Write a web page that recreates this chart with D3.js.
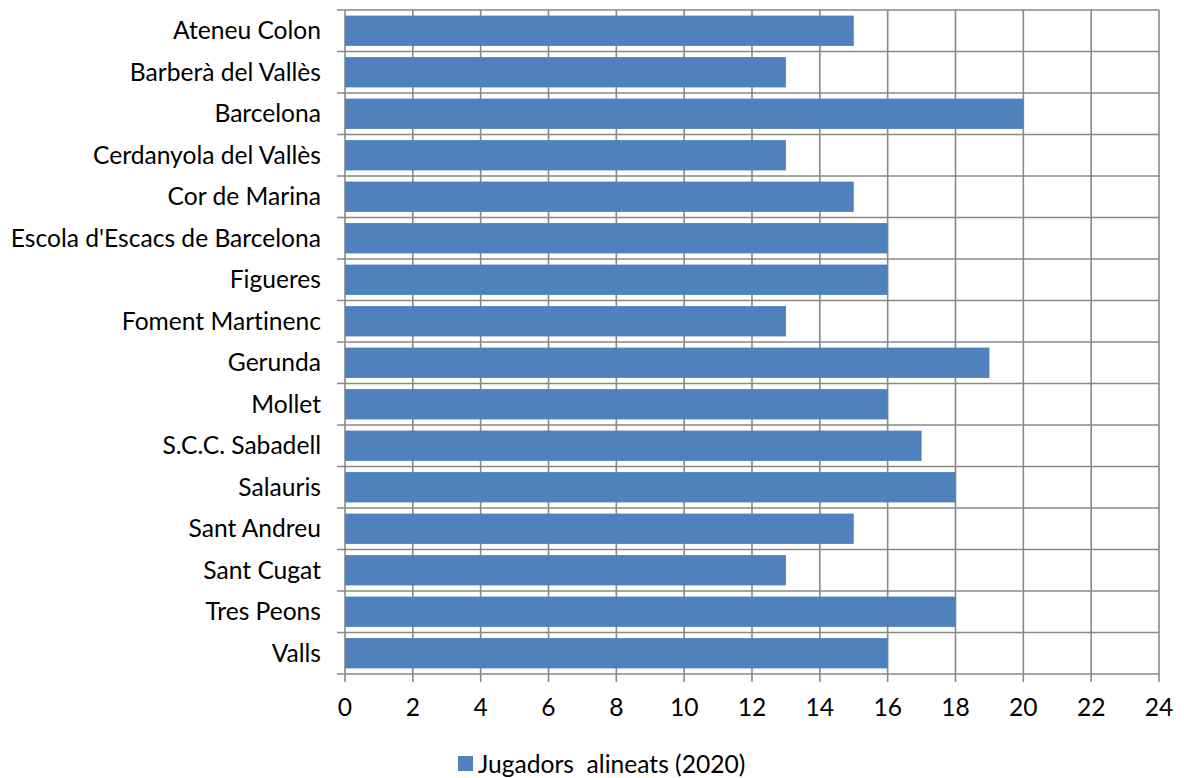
<!DOCTYPE html>
<html>
  <head>
    <script src="https://d3js.org/d3.v7.min.js" charset="utf-8"></script>
    <meta charset="UTF-8">
    <title>Jugadors alineats</title>
    <style>
      body { margin: 0; background: #fff; }
      text { font-family: Lato, "Open Sans", sans-serif; fill: #000; font-variant-ligatures: none; }
    </style>
  </head>
  <body>
    <svg class="chart"></svg>
    <script type="text/javascript">

     var clubs = ["Ateneu Colon", "Barberà del Vallès", "Barcelona", "Cerdanyola del Vallès",
                  "Cor de Marina", "Escola d'Escacs de Barcelona", "Figueres", "Foment Martinenc",
                  "Gerunda", "Mollet", "S.C.C. Sabadell", "Salauris", "Sant Andreu",
                  "Sant Cugat", "Tres Peons", "Valls"];
     var players = [15, 13, 20, 13, 15, 16, 16, 13, 19, 16, 17, 18, 15, 13, 18, 16];
     var xTicks = [0, 2, 4, 6, 8, 10, 12, 14, 16, 18, 20, 22, 24];
     var seriesName = "Jugadors\u00a0 alineats (2020)";

     var width = 1184,
         height = 778,
         plotLeft = 345,
         plotRight = 1159,
         plotTop = 10,
         plotBottom = 674,
         fontSize = 24.6;

     var svg = d3.select(".chart")
                 .attr("width", width)
                 .attr("height", height);

     var x = d3.scaleLinear().domain([0, 24]).range([plotLeft, plotRight]);
     var y = d3.scaleBand().domain(clubs).range([plotTop, plotBottom])
               .paddingInner(0.27).paddingOuter(0.135);

     var grid = svg.append("g").attr("stroke", "#898989").attr("stroke-width", 1.6);

     // vertical gridlines + ticks below the axis
     grid.selectAll("line.v")
         .data(xTicks)
         .enter().append("line")
         .attr("x1", function(d) { return x(d); })
         .attr("x2", function(d) { return x(d); })
         .attr("y1", plotTop)
         .attr("y2", plotBottom + 8);

     // horizontal lines at category boundaries
     var bounds = d3.range(clubs.length + 1);
     var step = (plotBottom - plotTop) / clubs.length;
     grid.selectAll("line.h")
         .data(bounds)
         .enter().append("line")
         .attr("x1", plotLeft - 8)
         .attr("x2", plotRight)
         .attr("y1", function(d) { return plotTop + d * step; })
         .attr("y2", function(d) { return plotTop + d * step; });

     svg.append("g")
        .selectAll("rect")
        .data(players)
        .enter().append("rect")
        .attr("x", x(0))
        .attr("y", function(d, i) { return y(clubs[i]); })
        .attr("width", function(d) { return x(d) - x(0); })
        .attr("height", y.bandwidth())
        .attr("fill", "#4F81BD");

     // category labels
     svg.append("g")
        .selectAll("text")
        .data(clubs)
        .enter().append("text")
        .attr("x", plotLeft - 24)
        .attr("y", function(d) { return y(d) + y.bandwidth() / 2; })
        .attr("dy", "0.35em")
        .attr("text-anchor", "end")
        .attr("font-size", fontSize)
        .text(function(d) { return d; });

     // value axis labels
     svg.append("g")
        .selectAll("text")
        .data(xTicks)
        .enter().append("text")
        .attr("x", function(d) { return x(d); })
        .attr("y", 707)
        .attr("dy", "0.35em")
        .attr("text-anchor", "middle")
        .attr("font-size", fontSize)
        .text(function(d) { return d; });

     // legend
     var legend = svg.append("g");
     legend.append("rect")
           .attr("x", 458).attr("y", 756)
           .attr("width", 15).attr("height", 15)
           .attr("fill", "#4F81BD");
     legend.append("text")
           .attr("x", 478).attr("y", 764)
           .attr("dy", "0.35em")
           .attr("font-size", fontSize)
           .text(seriesName);

    </script>
  </body>
</html>
